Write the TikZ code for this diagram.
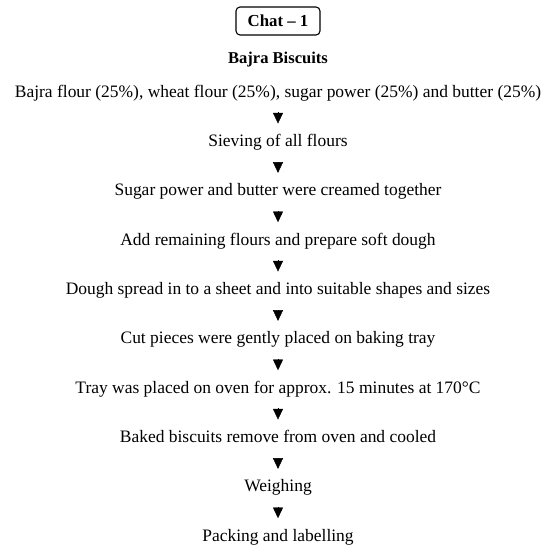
\documentclass[tikz,border=0pt]{standalone}
\usepackage{fontspec}
\setmainfont{Liberation Serif}
\usepackage{tikz}
\usetikzlibrary{arrows.meta,positioning}
\tikzset{
  chatbox/.style={
    rectangle, rounded corners=3pt, draw=black, thick,
    minimum width=63pt, minimum height=21pt,
    font=\fontsize{12.6}{14}\selectfont\bfseries, inner sep=0pt
  },
  titlenode/.style={
    font=\fontsize{12.4}{14}\selectfont\bfseries,
    text height=8.5pt, text depth=3pt, inner sep=0pt
  },
  stepnode/.style={
    font=\fontsize{13.1}{15}\selectfont,
    text height=8.5pt, text depth=3pt, inner sep=0pt
  },
  flowarrow/.style={
    -{Triangle[length=8pt,width=7.5pt]}, line width=0.3pt,
    shorten <=8.4pt, shorten >=8.4pt
  },
}

\begin{document}
\begin{tikzpicture}[node distance=25.1pt]
  \useasboundingbox (0,0) rectangle (414.75pt,-409.5pt);

  \node[chatbox] (chat) at (208.5pt,-15.75pt) {Chat -- 1};
  \node[titlenode, below=12.25pt of chat] (title) {Bajra Biscuits};

  \node[stepnode, below=13.25pt of title] (ingr)
    {Bajra flour (25\%), wheat flour (25\%), sugar power (25\%) and butter (25\%)};
  \node[stepnode, below=of ingr] (sieve) {Sieving of all flours};
  \node[stepnode, below=of sieve] (cream) {Sugar power and butter were creamed together};
  \node[stepnode, below=of cream] (dough) {Add remaining flours and prepare soft dough};
  \node[stepnode, below=of dough] (sheet) {Dough spread in to a sheet and into suitable shapes and sizes};
  \node[stepnode, below=of sheet] (tray) {Cut pieces were gently placed on baking tray};
  \node[stepnode, below=of tray] (oven) {Tray was placed on oven for approx. 15 minutes at 170°C};
  \node[stepnode, below=of oven] (cool) {Baked biscuits remove from oven and cooled};
  \node[stepnode, below=of cool] (weigh) {Weighing};
  \node[stepnode, below=of weigh] (pack) {Packing and labelling};

  \draw[flowarrow] (ingr) -- (sieve);
  \draw[flowarrow] (sieve) -- (cream);
  \draw[flowarrow] (cream) -- (dough);
  \draw[flowarrow] (dough) -- (sheet);
  \draw[flowarrow] (sheet) -- (tray);
  \draw[flowarrow] (tray) -- (oven);
  \draw[flowarrow] (oven) -- (cool);
  \draw[flowarrow] (cool) -- (weigh);
  \draw[flowarrow] (weigh) -- (pack);
\end{tikzpicture}
\end{document}
